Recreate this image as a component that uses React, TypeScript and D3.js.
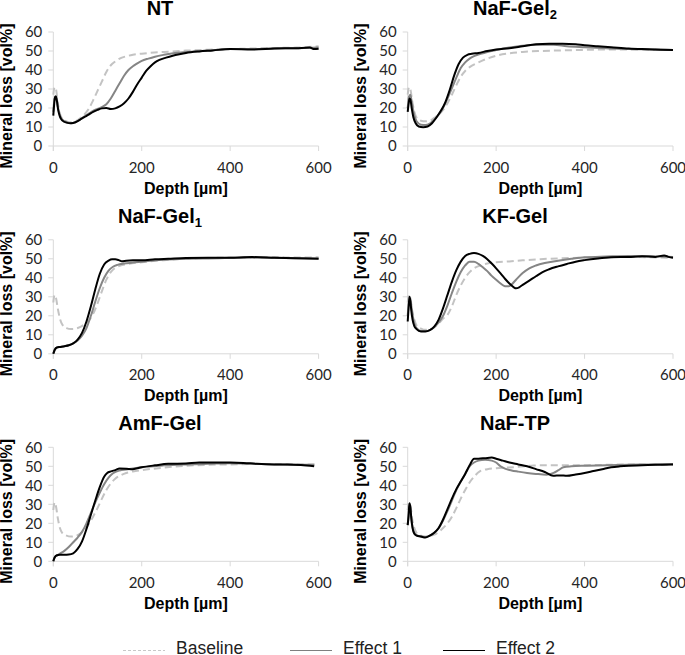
import React from "react";
import * as d3 from "d3";

type Pt = [number, number];

// ---------- data (depth µm, mineral loss vol%) ----------
const NT_BASELINE: Pt[] = [[0,27],[3,31],[6,30],[10,23],[15,17],[20,14.5],[30,13],[40,12.5],[50,13],[60,14.5],[70,16.5],[80,19.5],[90,24],[100,29],[110,34],[120,39],[130,42.5],[140,44.5],[150,46],[165,47.2],[180,48],[200,48.6],[250,49.5],[300,50.2],[350,50.7],[400,51],[450,51.3],[500,51.6],[550,51.8],[600,52.5]];
const NT_EFFECT1: Pt[] = [[0,18],[3,25],[6,26],[10,21],[15,16],[20,14],[30,12.5],[40,12],[50,12.5],[60,13.8],[70,15.5],[80,17],[90,18.5],[100,19.5],[110,20.5],[120,22],[130,25],[140,29],[150,33],[160,37],[170,40],[180,42],[190,43.5],[200,44.8],[215,46],[230,47],[250,48],[275,49],[300,49.5],[350,50.2],[400,51],[450,51],[500,51.3],[550,51.5],[600,51.8]];
const NT_EFFECT2: Pt[] = [[0,16],[2,22],[4,26],[6,26],[8,24],[11,19],[15,15.5],[20,13.5],[30,12.3],[40,12],[50,12.5],[60,13.8],[70,15.2],[80,16.5],[90,18],[100,19],[110,19.8],[120,20],[130,19.5],[140,19.8],[150,20.8],[160,22.5],[170,25],[180,28.5],[190,32.5],[200,36],[210,39.5],[220,42],[230,44],[240,45.3],[255,46.5],[270,47.5],[285,48.3],[300,49],[330,49.8],[360,50.3],[400,51],[450,50.8],[500,51.3],[550,51.5],[580,51.8],[590,51],[600,51.2]];

const GEL2_BASELINE: Pt[] = [[0,27],[3,31],[6,30],[10,24],[15,18],[20,15],[30,13.3],[40,13],[50,13.3],[60,14.8],[70,16.5],[80,19],[90,22.5],[100,27],[110,32],[120,36.5],[130,39.5],[140,41.5],[160,44],[180,46],[200,47.5],[230,48.8],[260,49.5],[300,50],[350,50.3],[400,50.6],[450,50.8],[500,50.8],[550,50.7],[600,50.5]];
const GEL2_EFFECT1: Pt[] = [[0,20],[3,26],[6,27],[10,22],[15,16],[20,13],[30,11.2],[40,11],[50,11.8],[60,13.8],[70,16.5],[80,20],[90,25],[100,30.5],[110,36],[120,41],[130,44],[140,46],[150,47.3],[165,48.5],[180,49.5],[200,50.5],[230,51.8],[260,52.8],[300,53.3],[330,53.3],[360,52.5],[400,52],[450,51.5],[500,51],[550,50.8],[600,50.5]];
const GEL2_EFFECT2: Pt[] = [[0,18],[2,22],[4,25],[6,24.5],[9,20],[13,15],[18,12],[25,10.3],[35,9.9],[45,10.3],[55,12],[65,15],[75,18.5],[85,23],[95,29.5],[105,37],[115,43],[125,46.5],[135,48],[145,48.5],[160,49],[180,50],[200,50.8],[230,51.5],[260,52.5],[290,53.5],[320,53.8],[350,53.8],[380,53.5],[400,53],[430,52.5],[460,52],[500,51.3],[530,51],[560,50.8],[600,50.5]];

const GEL1_BASELINE: Pt[] = [[0,27],[3,31],[6,29.5],[10,24],[15,18.5],[20,15.5],[30,13.5],[40,13],[50,13.2],[60,14],[70,15.5],[80,17.5],[90,21],[100,26.5],[110,33],[120,39],[130,43],[140,45.2],[150,46.3],[170,47.3],[200,48.2],[250,49.3],[300,50],[350,50.4],[400,50.6],[450,50.6],[500,50.8],[550,50.7],[600,50.8]];
const GEL1_EFFECT1: Pt[] = [[0,0],[3,2],[8,3.2],[15,3.6],[25,4],[35,4.5],[45,5.5],[55,7],[65,9.5],[75,13.5],[85,20],[95,27.5],[105,34.5],[115,40],[125,43.8],[135,45.8],[145,46.8],[160,47.5],[180,48],[200,48.5],[250,49.5],[300,50],[350,50.2],[400,50.5],[450,50.7],[500,50.5],[550,50.3],[600,50.2]];
const GEL1_EFFECT2: Pt[] = [[0,0],[3,2],[8,3.3],[15,3.6],[25,4],[35,4.5],[45,5.5],[55,7.5],[65,11],[75,17],[85,25],[95,34],[105,42],[115,47],[125,49],[133,49.7],[140,49.7],[148,49.3],[155,48.7],[165,49],[180,49.2],[200,49.2],[230,49.7],[260,50],[300,50.4],[350,50.5],[400,50.6],[450,50.9],[500,50.6],[550,50.3],[600,50]];

const KF_BASELINE: Pt[] = [[0,27],[3,31],[6,29.5],[10,23],[15,18],[20,15],[30,13.3],[40,12.6],[50,12.8],[60,14],[70,16],[80,18.5],[90,20.5],[100,25],[110,31],[120,36],[130,40],[140,43],[150,45],[165,46.5],[180,47.5],[200,48.2],[230,48.6],[260,49.2],[300,49.8],[350,50.3],[400,50.6],[450,50.8],[500,51],[550,50.8],[600,50.5]];
const KF_EFFECT1: Pt[] = [[0,20],[3,27],[6,28],[10,22],[15,16],[20,13.5],[30,12],[40,12],[50,12.5],[60,14],[70,16.5],[80,20],[90,25.5],[100,32],[110,38],[120,43],[130,46.5],[140,48.5],[150,48.5],[160,47.3],[170,45.5],[180,43.5],[190,41],[200,39],[210,37],[220,35.6],[228,35.5],[235,36.5],[245,39],[260,42.5],[275,45],[290,46.5],[310,47.8],[340,49],[370,50],[400,50.8],[450,51.2],[500,51.5],[550,51.3],[600,51]];
const KF_EFFECT2: Pt[] = [[0,17],[2,24],[4,30],[6,28],[8,23],[11,18],[15,14.5],[20,13],[30,11.8],[40,11.8],[50,12.5],[60,14.3],[70,18],[80,24],[90,31],[100,38],[110,44],[120,48.5],[130,51.5],[140,52.6],[150,53],[160,52.6],[170,51.5],[180,49.8],[190,47.5],[200,45],[210,42.3],[220,39.5],[230,37],[240,35],[245,34.5],[252,35],[260,36.3],[275,38.5],[290,40.8],[305,43],[320,44.5],[340,46],[360,47.3],[380,48.5],[400,49.3],[430,50.2],[460,50.8],[500,51],[530,51.3],[560,51],[580,51.8],[590,51],[600,50.5]];

const AMF_BASELINE: Pt[] = [[0,27],[3,31],[6,29],[10,23],[15,17.5],[20,15],[30,13.5],[40,13],[50,13.3],[60,14.5],[70,16.5],[80,19.5],[90,23.5],[100,28],[110,33],[120,37.5],[130,41],[140,43.5],[150,45],[165,46.5],[180,47.3],[200,48],[250,49.3],[300,50.3],[350,50.8],[400,51],[450,51.2],[500,51.2],[550,51],[600,51]];
const AMF_EFFECT1: Pt[] = [[0,0],[3,2],[8,3],[15,4],[25,5.5],[35,7.5],[45,10],[55,12.5],[65,15.5],[75,20],[85,25.5],[95,31],[105,36],[115,40.5],[125,44],[135,46.3],[150,47.8],[165,48.3],[180,48.8],[200,49.5],[250,50.5],[300,51],[350,51.3],[400,51.6],[450,51.3],[500,51],[550,50.8],[590,50.8]];
const AMF_EFFECT2: Pt[] = [[0,0],[3,2],[8,3.2],[15,3.5],[25,3.5],[35,3.6],[45,4.2],[55,6.5],[65,10.5],[75,17],[85,24.5],[95,32],[105,39],[115,44.5],[122,46.5],[130,47.3],[140,48],[150,48.8],[165,48.7],[180,48.5],[200,49.5],[230,50.5],[260,51.3],[300,51.5],[330,52],[360,52],[400,52],[430,51.8],[460,51.3],[500,51],[530,51],[560,50.7],[590,50]];

const TP_BASELINE: Pt[] = [[0,27],[3,31],[6,29.5],[10,22.5],[15,17.5],[20,15],[30,13.5],[40,13],[50,13.3],[60,14],[70,15.5],[80,17.5],[90,20],[100,23.5],[110,28],[120,33],[130,37.5],[140,41.5],[150,44.5],[163,47.3],[180,48.5],[200,49],[250,49.7],[284,50.4],[300,50.5],[350,50.6],[400,50.6],[450,50.8],[500,51],[550,50.8],[600,51]];
const TP_EFFECT1: Pt[] = [[0,19],[2,24],[4,30],[6,28],[8,23],[11,18],[15,15],[20,13.8],[30,13],[40,12.8],[50,13.5],[60,15],[70,17.5],[80,21.5],[90,26.5],[100,32],[110,37.5],[120,42],[130,46],[140,50],[150,52],[160,53],[175,53.5],[190,53],[200,52],[210,50],[220,48.8],[235,47.8],[250,47.2],[270,46.5],[290,46],[314,45.6],[330,46.5],[340,47.8],[352,49.5],[370,50],[400,50.3],[450,50.5],[500,50.8],[550,51],[600,51.2]];
const TP_EFFECT2: Pt[] = [[0,19],[2,24],[4,30.5],[6,28.5],[8,23],[11,17.5],[15,14.5],[20,13.5],[30,13],[40,12.5],[50,13.5],[60,15],[70,17.5],[80,22],[90,27.5],[100,33],[110,38],[120,42],[130,46],[140,50.5],[150,54],[160,54],[175,54.3],[190,54.6],[200,54],[215,53],[230,52],[250,51],[270,50],[290,48.5],[310,47],[329,45],[345,45.2],[360,45],[380,45.7],[400,46.5],[420,47.5],[440,48.5],[460,49.5],[480,50],[500,50.3],[530,50.5],[560,50.8],[600,51]];

const PANEL_TITLES = ["NT", "NaF-Gel", "NaF-Gel", "KF-Gel", "AmF-Gel", "NaF-TP"];
const PANEL_SUBS = ["", "2", "1", "", "", ""];
const X_TICKS = [0, 200, 400, 600];
const Y_TICKS = [0, 10, 20, 30, 40, 50, 60];
const SERIES_NAMES = ["Baseline", "Effect 1", "Effect 2"];
const PANEL_DATA: Pt[][][] = [
  [NT_BASELINE, NT_EFFECT1, NT_EFFECT2],
  [GEL2_BASELINE, GEL2_EFFECT1, GEL2_EFFECT2],
  [GEL1_BASELINE, GEL1_EFFECT1, GEL1_EFFECT2],
  [KF_BASELINE, KF_EFFECT1, KF_EFFECT2],
  [AMF_BASELINE, AMF_EFFECT1, AMF_EFFECT2],
  [TP_BASELINE, TP_EFFECT1, TP_EFFECT2],
];

// ---------- styling / layout ----------
const SERIES_STYLE = [
  { stroke: "#c3c3c3", dash: "7,4", width: 2 },
  { stroke: "#858585", dash: "", width: 2 },
  { stroke: "#000000", dash: "", width: 2 },
];
const COL_X0 = [53.3, 407.7];
const TITLE_CX = [160, 515];
const ROW_Y0 = [146, 353.8, 561.3];
const PLOT_W = 265.3;
const PLOT_H = 114;
const AXIS_COLOR = "#d9d9d9";
const TICK_FONT = "Lato, 'Open Sans', sans-serif";
const BOLD_FONT = "'Liberation Sans', Arial, sans-serif";

function Panel({ idx }: { idx: number }) {
  const col = idx % 2;
  const row = Math.floor(idx / 2);
  const x0 = COL_X0[col];
  const y0 = ROW_Y0[row];
  const x = d3.scaleLinear().domain([0, 600]).range([x0, x0 + PLOT_W]);
  const y = d3.scaleLinear().domain([0, 60]).range([y0, y0 - PLOT_H]);
  const line = d3
    .line<Pt>()
    .x((d) => x(d[0]))
    .y((d) => y(d[1]))
    .curve(d3.curveMonotoneX);
  const series = PANEL_DATA[idx];
  return (
    <g>
      <text
        x={TITLE_CX[col]}
        y={y(60) - 17}
        textAnchor="middle"
        fontFamily={BOLD_FONT}
        fontWeight="bold"
        fontSize={20}
        fill="#000"
      >
        {PANEL_TITLES[idx]}
        {PANEL_SUBS[idx] && (
          <tspan fontSize={13} dy={4}>
            {PANEL_SUBS[idx]}
          </tspan>
        )}
      </text>
      {/* axes */}
      <line x1={x(0)} x2={x(600)} y1={y(0)} y2={y(0)} stroke={AXIS_COLOR} strokeWidth={1} />
      <line x1={x(0)} x2={x(0)} y1={y(60)} y2={y(0) + 5} stroke={AXIS_COLOR} strokeWidth={1} />
      {X_TICKS.map((t) => (
        <g key={"xt" + t}>
          <line x1={x(t)} x2={x(t)} y1={y(0)} y2={y(0) + 5} stroke={AXIS_COLOR} strokeWidth={1} />
          <text
            x={x(t)}
            y={y(0) + 26.5}
            textAnchor="middle"
            fontFamily={TICK_FONT}
            fontSize={15}
            fill="#262626"
          >
            {t}
          </text>
        </g>
      ))}
      {Y_TICKS.map((t) => (
        <g key={"yt" + t}>
          <line x1={x(0) - 5} x2={x(0)} y1={y(t)} y2={y(t)} stroke={AXIS_COLOR} strokeWidth={1} />
          <text
            x={x(0) - 11}
            y={y(t)}
            dy="0.36em"
            textAnchor="end"
            fontFamily={TICK_FONT}
            fontSize={15}
            fill="#262626"
          >
            {t}
          </text>
        </g>
      ))}
      <text
        x={(x(0) + x(600)) / 2}
        y={y(0) + 47.5}
        textAnchor="middle"
        fontFamily={BOLD_FONT}
        fontWeight="bold"
        fontSize={16}
        fill="#000"
      >
        Depth [µm]
      </text>
      <text
        transform={`translate(${x0 - 41.3},${(y(0) + y(60)) / 2 + 7}) rotate(-90)`}
        textAnchor="middle"
        fontFamily={BOLD_FONT}
        fontWeight="bold"
        fontSize={16}
        fill="#000"
      >
        Mineral loss [vol%]
      </text>
      {series.map((s, i) => (
        <path
          key={"s" + i}
          d={line(s) || ""}
          fill="none"
          stroke={SERIES_STYLE[i].stroke}
          strokeWidth={SERIES_STYLE[i].width}
          strokeDasharray={SERIES_STYLE[i].dash || undefined}
          strokeLinejoin="round"
        />
      ))}
    </g>
  );
}

const LEGEND_LINE_X = [123, 290, 443];
const LEGEND_STYLE = [
  { stroke: "#c8c8c8", dash: "3,2" },
  { stroke: "#7f7f7f", dash: "" },
  { stroke: "#000000", dash: "" },
];

export default function App() {
  return (
    <svg
      width={685}
      height={655}
      style={{ position: "absolute", left: 0, top: 0, background: "#fff" }}
    >
      <rect width={685} height={655} fill="#fff" />
      {PANEL_DATA.map((_, i) => (
        <Panel key={i} idx={i} />
      ))}
      {SERIES_NAMES.map((name, i) => (
        <g key={name}>
          <line
            x1={LEGEND_LINE_X[i]}
            x2={LEGEND_LINE_X[i] + 42}
            y1={650.5}
            y2={650.5}
            stroke={LEGEND_STYLE[i].stroke}
            strokeWidth={1}
            strokeDasharray={LEGEND_STYLE[i].dash || undefined}
          />
          <text
            x={LEGEND_LINE_X[i] + 53}
            y={654.3}
            fontFamily="'Liberation Sans', Arial, sans-serif"
            fontSize={17.5}
            fill="#222"
          >
            {name}
          </text>
        </g>
      ))}
    </svg>
  );
}
